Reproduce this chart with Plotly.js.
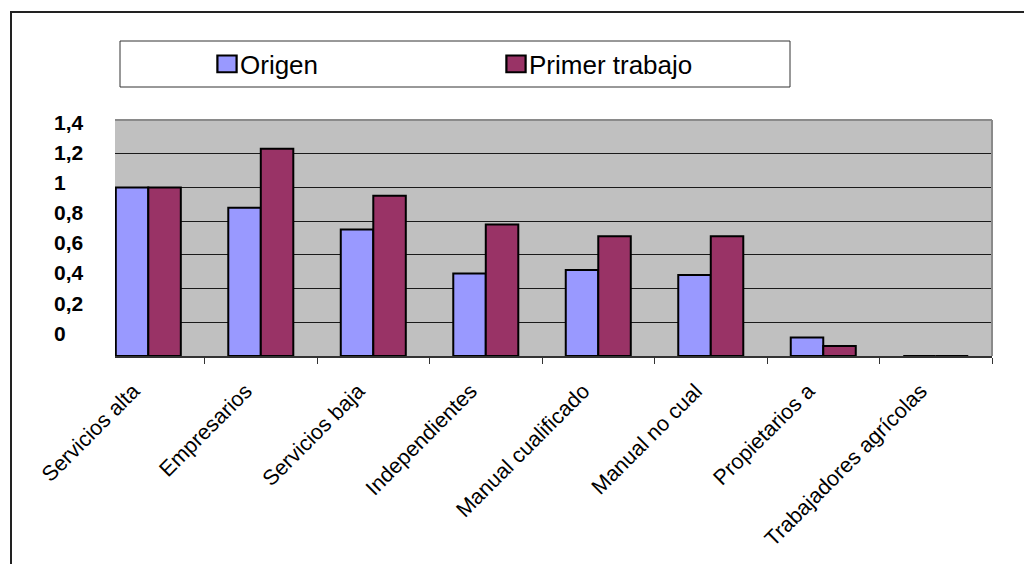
<!DOCTYPE html>
<html><head><meta charset="utf-8">
<script src="https://cdn.plot.ly/plotly-3.0.1.min.js"></script>
<style>html,body{margin:0;padding:0;background:#fff}#chart{width:1024px;height:564px}</style>
</head><body><div id="chart"></div>
<script>
const categories = ["Servicios alta","Empresarios","Servicios baja","Independientes","Manual cualificado","Manual no cualificado","Propietarios agrícolas","Trabajadores agrícolas"];
const tickLabels = ["Servicios alta","Empresarios","Servicios baja","Independientes","Manual cualificado","Manual no cual","Propietarios a","Trabajadores agrícolas"];
const origen = [1.00, 0.88, 0.75, 0.49, 0.51, 0.48, 0.11, 0];
const primerTrabajo = [1.00, 1.23, 0.95, 0.78, 0.71, 0.71, 0.06, 0];
const yTickValues = [0, 0.2, 0.4, 0.6, 0.8, 1, 1.2, 1.4];
const yTickText = ["0", "0,2", "0,4", "0,6", "0,8", "1", "1,2", "1,4"];
const seriesNames = ["Origen", "Primer trabajo"];

const W = 1024, H = 564, M = {l: 50, r: 32, t: 120, b: 208};
const pw = W - M.l - M.r, ph = H - M.t - M.b;
const px = p => (p - M.l) / pw;
const py = q => (H - M.b - q) / ph;
const FONT = "Liberation Sans, Arial, sans-serif";

const traces = [
  {type: "bar", name: seriesNames[0], x: categories, y: origen,
   marker: {color: "#9999FF", line: {color: "#000", width: 2}}, hoverinfo: "skip"},
  {type: "bar", name: seriesNames[1], x: categories, y: primerTrabajo,
   marker: {color: "#993366", line: {color: "#000", width: 2}}, hoverinfo: "skip"},
  {type: "scatter", x: [], y: [], yaxis: "y2", showlegend: false, hoverinfo: "skip"}
];

const layout = {
  width: W, height: H, margin: M,
  paper_bgcolor: "#fff", plot_bgcolor: "#C0C0C0",
  font: {family: FONT, color: "#000"},
  barmode: "group", bargap: 0.422, bargroupgap: 0,
  showlegend: true,
  legend: {orientation: "h", x: px(200), y: py(64), xanchor: "left", yanchor: "middle",
           font: {family: FONT, size: 26, color: "#000"}, bgcolor: "rgba(0,0,0,0)",
           borderwidth: 0, entrywidth: 244, entrywidthmode: "pixels"},
  xaxis: {type: "category", domain: [px(115), 1], range: [-0.296, 7.5],
          tickvals: categories, ticktext: tickLabels, tickangle: -45,
          tickfont: {family: FONT, size: 21.5, color: "#000"},
          ticklabelstandoff: 12, ticklabelshift: -15,
          ticks: "outside", tickson: "boundaries", ticklen: 6, tickcolor: "#333", tickwidth: 1,
          showline: true, linecolor: "#333", linewidth: 2, showgrid: false, fixedrange: true},
  yaxis: {range: [0, 1.4], tickvals: [0.2, 0.4, 0.6, 0.8, 1, 1.2], showticklabels: false,
          showgrid: true, gridcolor: "#1a1a1a", gridwidth: 1, zeroline: false, ticks: "", fixedrange: true},
  yaxis2: {overlaying: "y", anchor: "free", position: px(53), side: "right",
           range: [-0.151, 1.418], tickvals: yTickValues, ticktext: yTickText,
           tickfont: {family: FONT, size: 21, color: "#000", weight: "bold"},
           showgrid: false, zeroline: false, showline: false, ticks: "", fixedrange: true},
  shapes: [
    {type: "line", xref: "paper", yref: "paper", x0: px(115), x1: 1, y0: 1, y1: 1, line: {color: "#8a8a8a", width: 2}},
    {type: "line", xref: "paper", yref: "paper", x0: 1, x1: 1, y0: 0, y1: 1, line: {color: "#8a8a8a", width: 2}},
    {type: "rect", xref: "paper", yref: "paper", x0: px(120), x1: px(790), y0: py(87), y1: py(41), line: {color: "#333", width: 1}},
    {type: "rect", xref: "paper", yref: "paper", x0: px(11), x1: px(1100), y0: py(640), y1: py(12), line: {color: "#222", width: 2}}
  ]
};

Plotly.newPlot("chart", traces, layout, {displayModeBar: false, staticPlot: true}).then(gd => {
  gd.querySelectorAll(".legend .legendpoints path").forEach(p => {
    p.setAttribute("transform", "translate(27,0) scale(1.6,1.4)");
    p.style.strokeWidth = "1.4px";
  });
});
</script>
</body></html>
